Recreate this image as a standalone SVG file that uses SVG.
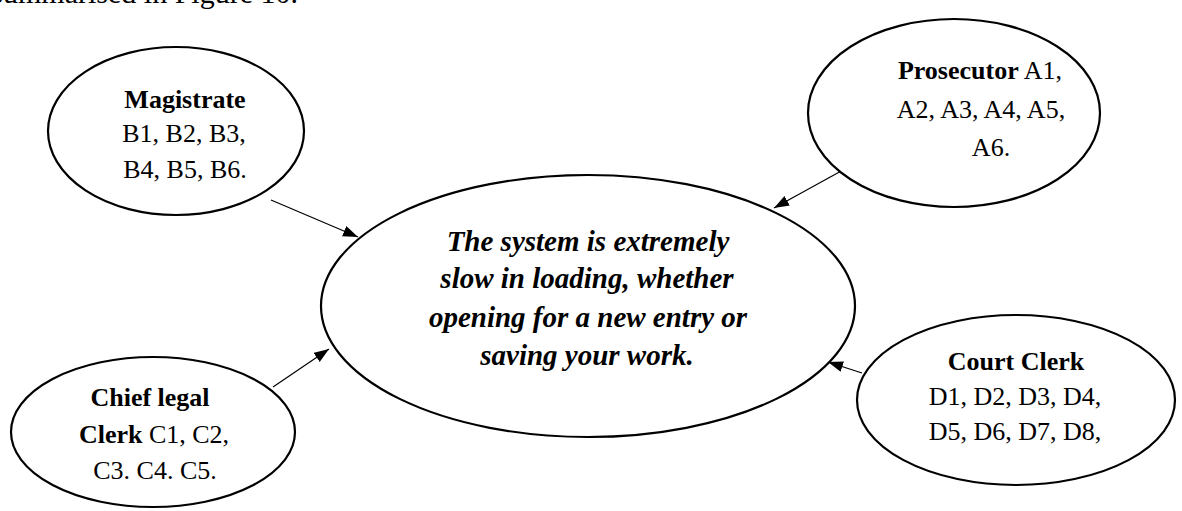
<svg xmlns="http://www.w3.org/2000/svg" width="1182" height="511" viewBox="0 0 1182 511">
  <style>
    .node { fill: #ffffff; stroke: #000000; stroke-width: 2.2; }
    .lbl { font-family: "Liberation Serif", "Times New Roman", serif; font-size: 26px; fill: #000000; text-anchor: middle; }
    .b { font-weight: bold; }
    .main { font-family: "Liberation Serif", "Times New Roman", serif; font-size: 29px; font-weight: bold; font-style: italic; fill: #000000; text-anchor: middle; }
    .edge { stroke: #000000; stroke-width: 1.2; fill: none; marker-end: url(#arrow); }
    .body { font-family: "Liberation Serif", "Times New Roman", serif; font-size: 30px; fill: #000000; }
  </style>
  <defs>
    <marker id="arrow" markerUnits="userSpaceOnUse" markerWidth="16" markerHeight="12" refX="15" refY="5.5" orient="auto">
      <path d="M0,0 L15,5.5 L0,11 z" fill="#000000"/>
    </marker>
  </defs>
  <rect width="1182" height="511" fill="#ffffff"/>

  <!-- running text line above the figure -->
  <text class="body" x="298" y="3" text-anchor="end">summarised in Figure 10.</text>

  <!-- connectors -->
  <g id="connectors">
    <line class="edge" x1="271" y1="200" x2="358" y2="237"/>
    <line class="edge" x1="843" y1="170" x2="774" y2="208"/>
    <line class="edge" x1="862" y1="373" x2="828" y2="362"/>
    <line class="edge" x1="273" y1="387" x2="329" y2="349"/>
  </g>

  <g id="node-central">
    <ellipse class="node" cx="588" cy="306" rx="267" ry="131"/>
    <text class="main" x="588" y="251">The system is extremely</text>
    <text class="main" x="587" y="288">slow in loading, whether</text>
    <text class="main" x="588" y="327">opening for a new entry or</text>
    <text class="main" x="587" y="365">saving your work.</text>
  </g>

  <g id="node-magistrate">
    <ellipse class="node" cx="176" cy="131" rx="128" ry="84"/>
    <text class="lbl b" x="185" y="108">Magistrate</text>
    <text class="lbl" x="184" y="142">B1, B2, B3,</text>
    <text class="lbl" x="185" y="178">B4, B5, B6.</text>
  </g>

  <g id="node-prosecutor">
    <ellipse class="node" cx="954" cy="113" rx="146" ry="94"/>
    <text class="lbl" x="980" y="79"><tspan class="b">Prosecutor</tspan> A1,</text>
    <text class="lbl" x="981" y="118">A2, A3, A4, A5,</text>
    <text class="lbl" x="991" y="156">A6.</text>
  </g>

  <g id="node-chief-legal-clerk">
    <ellipse class="node" cx="153" cy="432" rx="142" ry="75"/>
    <text class="lbl b" x="150" y="406">Chief legal</text>
    <text class="lbl" x="154" y="443"><tspan class="b">Clerk</tspan> C1, C2,</text>
    <text class="lbl" x="155" y="479">C3. C4. C5.</text>
  </g>

  <g id="node-court-clerk">
    <ellipse class="node" cx="1016" cy="400" rx="159" ry="85"/>
    <text class="lbl b" x="1016" y="370">Court Clerk</text>
    <text class="lbl" x="1015" y="405">D1, D2, D3, D4,</text>
    <text class="lbl" x="1015" y="440">D5, D6, D7, D8,</text>
  </g>
</svg>
